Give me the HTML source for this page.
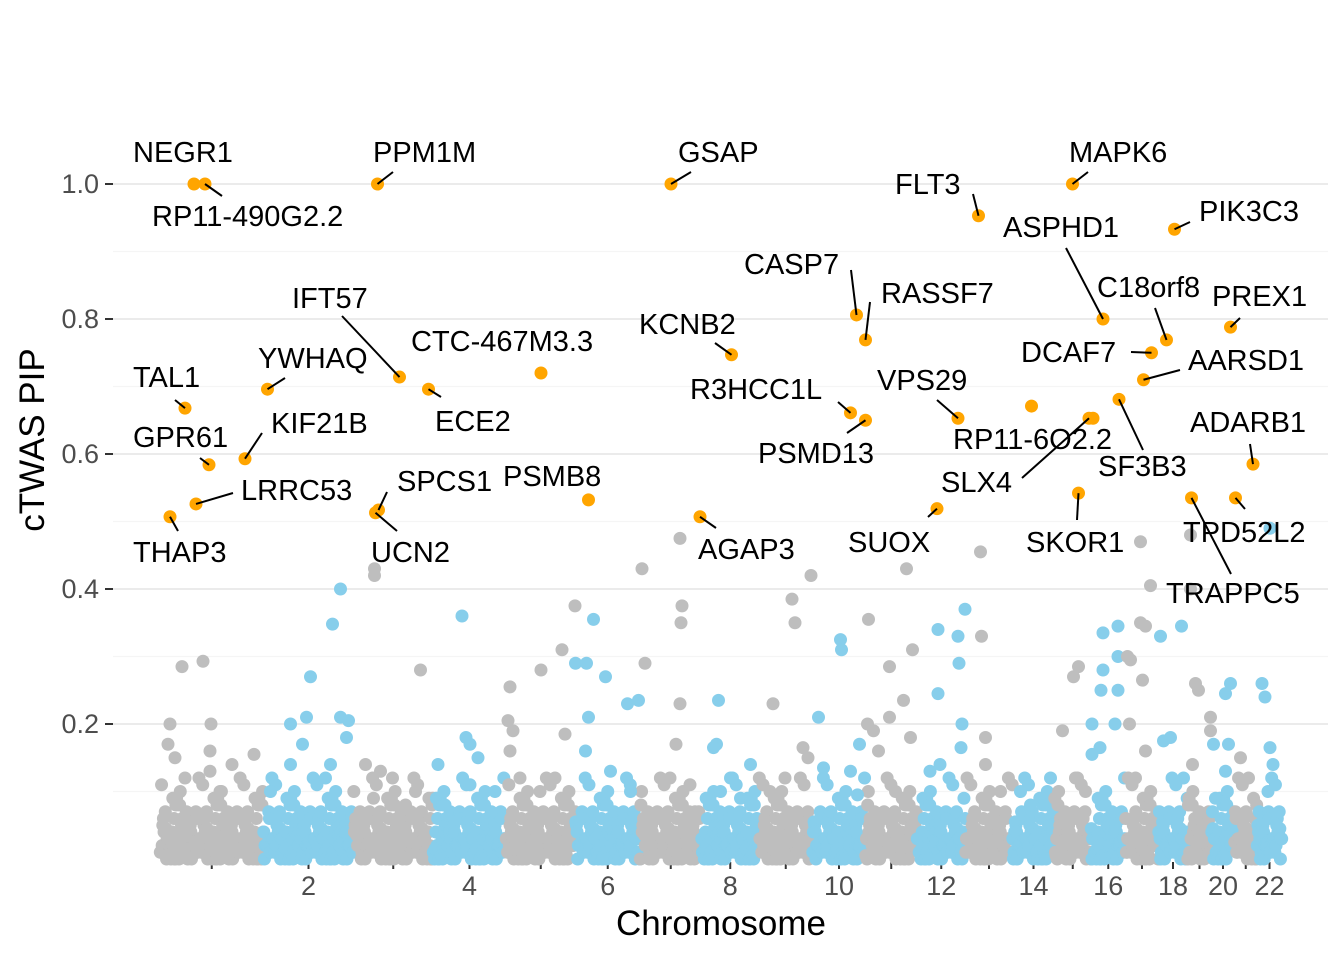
<!DOCTYPE html>
<html><head><meta charset="utf-8">
<style>
html,body{margin:0;padding:0;background:#fff;}
svg{display:block;font-family:"Liberation Sans",Arial,sans-serif;}
</style></head>
<body>
<svg id="chart" width="1344" height="960" viewBox="0 0 1344 960" xmlns="http://www.w3.org/2000/svg">
<g id="grid"></g>
<g id="axes"></g>
<g id="bg"></g>
<g id="hl"></g>
<g id="lab"></g>
<text x="0" y="0" transform="translate(44,440) rotate(-90)" text-anchor="middle" font-size="35" fill="#000">cTWAS PIP</text>
<text x="721" y="935" text-anchor="middle" font-size="35" fill="#000">Chromosome</text>
</svg>
<script>
// chromosome relative sizes (axis units)
const chromSizes = [103.5,90,79.5,73,69.5,64.5,61.5,57.5,53.5,53,51.5,48.5,47,42,36.5,34.5,33,29,24,23,22.5,25];
const xTickLabels = ["","2","","4","","6","","8","","10","","12","","14","","16","","18","","20","","22"];
const yTicks = [0.2,0.4,0.6,0.8,1.0];
const yTickLabels = ["0.2","0.4","0.6","0.8","1.0"];
const yMinor = [0.1,0.3,0.5,0.7,0.9];
// shared low-PIP background values
const lowPips = [0.01,0.04,0.02,0.07,0.00,0.03,0.05,0.01,0.09,0.02,0.06,0.03,0.00,0.04,0.11,0.02,0.05,0.01,0.03,0.08,0.00,0.02,0.06,0.04,0.01,0.03,0.10,0.02,0.05,0.00,0.07,0.03,0.01,0.04,0.02,0.06,0.00,0.03,0.12,0.01,0.05,0.02,0.04,0.08,0.00,0.03,0.01,0.06,0.02,0.04,0.09,0.01,0.03,0.00,0.05,0.02,0.07,0.01,0.04,0.03,0.015,0.035,0.025,0.045,0.005,0.055];
// elevated background genes: [chrom, position within chrom, pip]
const bgGenes = [
[1,22,0.285],[1,43,0.293],[1,10,0.2],[1,51,0.2],[1,50,0.16],[1,8,0.17],[1,72,0.14],[1,50,0.13],[1,94,0.155],[1,15,0.15],[1,25,0.12],[1,60,0.1],
[2,7,0.1],[2,27,0.14],[2,27,0.2],[2,39,0.17],[2,43,0.21],[2,47,0.27],[2,62,0.12],[2,67,0.14],[2,69,0.348],[2,77,0.4],[2,77,0.21],[2,83,0.18],[2,85,0.205],
[3,12,0.14],[3,20,0.09],[3,21,0.42],[3,21,0.43],[3,27,0.13],[3,39,0.12],[3,52,0.08],[3,67,0.28],[3,62,0.1],
[4,5,0.14],[4,29,0.36],[4,33,0.18],[4,37,0.17],[4,45,0.15],[4,62,0.1],[4,37,0.11],[4,12,0.08],
[5,4,0.255],[5,2,0.205],[5,4,0.16],[5,7,0.19],[5,14,0.12],[5,35,0.28],[5,34,0.1],[5,56,0.31],[5,59,0.185],[5,69,0.375],[5,49,0.12],
[6,0,0.29],[6,11,0.29],[6,18,0.355],[6,13,0.21],[6,10,0.16],[6,30,0.27],[6,35,0.13],[6,52,0.23],[6,63,0.235],[6,55,0.1],
[7,2,0.43],[7,5,0.29],[7,40,0.475],[7,42,0.375],[7,41,0.35],[7,40,0.23],[7,36,0.17],[7,30,0.12],[7,50,0.11],[7,55,0.07],
[8,17,0.235],[8,15,0.17],[8,12,0.165],[8,19,0.1],[8,29,0.12],[8,49,0.14],[8,39,0.09],
[9,14,0.23],[9,33,0.385],[9,36,0.35],[9,52,0.42],[9,44,0.165],[9,49,0.15],[9,11,0.1],[9,26,0.12],
[10,6,0.21],[10,11,0.135],[10,28,0.325],[10,29,0.31],[10,45,0.095],[10,47,0.17],[10,38,0.13],
[11,3,0.355],[11,2,0.2],[11,8,0.19],[11,13,0.16],[11,24,0.285],[11,24,0.21],[11,38,0.235],[11,41,0.43],[11,47,0.31],[11,45,0.18],[11,30,0.1],
[12,21,0.34],[12,21,0.245],[12,13,0.13],[12,41,0.33],[12,42,0.29],[12,45,0.2],[12,44,0.165],[12,48,0.37],[12,23,0.14],
[13,15,0.455],[13,16,0.33],[13,20,0.18],[13,20,0.14],[13,35,0.1],
[14,8,0.1],[14,38,0.12],[14,18,0.08],
[15,8,0.19],[15,19,0.27],[15,24,0.285],[15,21,0.12],[15,31,0.1],
[16,1,0.2],[16,1,0.155],[16,9,0.165],[16,12,0.335],[16,12,0.28],[16,10,0.25],[16,27,0.345],[16,27,0.3],[16,27,0.25],[16,24,0.2],
[17,2,0.3],[17,4,0.2],[17,5,0.295],[17,15,0.47],[17,15,0.35],[17,20,0.345],[17,25,0.405],[17,17,0.265],[17,20,0.16],[17,10,0.12],
[18,2,0.33],[18,5,0.175],[18,12,0.18],[18,23,0.345],[18,25,0.12],
[19,3,0.48],[19,3,0.4],[19,8,0.26],[19,11,0.25],[19,23,0.21],[19,23,0.19],[19,5,0.14],
[20,2,0.17],[20,14,0.245],[20,19,0.26],[20,17,0.17],[20,14,0.13],[20,4,0.09],
[21,14,0.12],[21,6,0.15],
[22,5,0.26],[22,8,0.24],[22,13,0.49],[22,13,0.165],[22,16,0.14],[22,11,0.1]
];
// highlighted genes: name, chrom, position within chrom, pip
const geneNames = ["NEGR1","RP11-490G2.2","PPM1M","GSAP","MAPK6","FLT3","PIK3C3","ASPHD1","C18orf8","PREX1","DCAF7","AARSD1","CASP7","RASSF7","KCNB2","CTC-467M3.3","IFT57","ECE2","YWHAQ","TAL1","R3HCC1L","PSMD13","VPS29","UNLAB14","RP11-6O2.2","SLX4","SF3B3","KIF21B","GPR61","ADARB1","SKOR1","SPCS1","UCN2","PSMB8","LRRC53","THAP3","AGAP3","SUOX","TRAPPC5","TPD52L2"];
const geneChrom = [1,1,3,7,15,13,18,16,18,20,17,17,10,11,8,5,3,3,2,1,10,11,12,14,16,16,16,1,1,21,15,3,3,6,1,1,7,12,19,20];
const genePos = [34,45,24,31,18,13,16,12,8,19,26,18,44,0,30,35,46,75,4,25,38,0,41,19,2,-2,28,85,49,18.5,24,25,22,13,36,10,60,20,4,24];
const genePip = [1.0,1.0,1.0,1.0,1.0,0.953,0.933,0.80,0.769,0.788,0.75,0.71,0.806,0.769,0.747,0.72,0.714,0.696,0.696,0.668,0.661,0.65,0.653,0.671,0.653,0.653,0.681,0.593,0.584,0.585,0.542,0.517,0.513,0.532,0.526,0.507,0.507,0.519,0.535,0.535];
// label layout: [textX, baselineY, lineX1, lineY1] (line goes to point)
const labelLayout = {
"NEGR1":[133,162,null,null],"RP11-490G2.2":[152,226,222,196],"PPM1M":[373,162,393,172],"GSAP":[678,162,691,172],
"MAPK6":[1069,162,1088,172],"FLT3":[895,194,973,194],"PIK3C3":[1199,221,1190,222],"ASPHD1":[1003,237,1066,248],
"C18orf8":[1097,297,1155,308],"PREX1":[1212,306,1240,318],"DCAF7":[1021,362,1131,352],"AARSD1":[1188,370,1180,370],
"CASP7":[744,274,851,270],"RASSF7":[881,303,870,302],"KCNB2":[639,334,715,343],"CTC-467M3.3":[411,351,null,null],
"IFT57":[292,308,342,316],"ECE2":[435,431,441,397],"YWHAQ":[258,368,285,378],"TAL1":[133,387,175,400],
"R3HCC1L":[690,399,838,402],"PSMD13":[758,463,847,433],"VPS29":[877,390,937,400],"RP11-6O2.2":[953,449,null,null],
"SLX4":[941,492,1022,478],"SF3B3":[1098,476,1143,450],"KIF21B":[271,433,262,433],"GPR61":[133,447,200,458],
"ADARB1":[1190,432,1250,444],"SKOR1":[1026,552,1077,520],"SPCS1":[397,491,387,492],"UCN2":[371,562,397,531],
"PSMB8":[503,486,null,null],"LRRC53":[241,500,233,493],"THAP3":[133,562,178,531],"AGAP3":[698,559,716,528],
"SUOX":[848,552,928,517],"TRAPPC5":[1166,603,1231,574],"TPD52L2":[1183,542,1245,509]
};

const NS="http://www.w3.org/2000/svg";
const X0=160, Y0=859, YSCALE=675, R=6.5;
const starts=[]; {let s=0; for(const w of chromSizes){starts.push(s); s+=w;}}
function xPos(c,p){return X0+starts[c-1]+p;}
function yPos(v){return Y0-YSCALE*v;}
function mk(tag,attrs,parent){const e=document.createElementNS(NS,tag);for(const k in attrs)e.setAttribute(k,attrs[k]);parent.appendChild(e);return e;}
const grid=document.getElementById('grid'),axes=document.getElementById('axes'),bg=document.getElementById('bg'),hl=document.getElementById('hl'),lab=document.getElementById('lab');

yMinor.forEach(v=>{const l=mk('line',{x1:113,x2:1328,y1:yPos(v),y2:yPos(v),stroke:'#F5F5F5','stroke-width':1.2},grid);

});
yTicks.forEach((v,i)=>{const l=mk('line',{x1:113,x2:1328,y1:yPos(v),y2:yPos(v),stroke:'#EBEBEB','stroke-width':2},grid);


const t=mk('line',{x1:105,x2:113,y1:yPos(v),y2:yPos(v),stroke:'#333','stroke-width':2},axes);


const tx=mk('text',{x:99,y:yPos(v)+9,'text-anchor':'end','font-size':27,fill:'#4D4D4D'},axes);tx.textContent=yTickLabels[i];

});
chromSizes.forEach((w,i)=>{const cx=X0+starts[i]+w/2;
const t=mk('line',{x1:cx,x2:cx,y1:862,y2:869,stroke:'#333','stroke-width':2},axes);


if(xTickLabels[i]){const tx=mk('text',{x:cx,y:895,'text-anchor':'middle','font-size':27,fill:'#4D4D4D'},axes);tx.textContent=xTickLabels[i];

}});

function col(c){return c%2===1?'#BEBEBE':'#87CEEB';}
// low band
chromSizes.forEach((w,i)=>{const n=Math.round(w*1.6);
for(let k=0;k<n;k++){const v=lowPips[(k*7+i*13)%lowPips.length];
const p=(k+0.5)/n*w;
const d=mk('circle',{cx:xPos(i+1,p),cy:yPos(v),r:R,fill:col(i+1)},bg);

}});
bgGenes.forEach(g=>{const d=mk('circle',{cx:xPos(g[0],g[1]),cy:yPos(g[2]),r:R,fill:col(g[0])},bg);

});

geneNames.forEach((n,i)=>{const cx=xPos(geneChrom[i],genePos[i]),cy=yPos(genePip[i]);
const L=labelLayout[n];
if(L&&L[2]!==null){const l=mk('line',{x1:L[2],y1:L[3],x2:cx,y2:cy,stroke:'#000','stroke-width':2},lab);

}
const d=mk('circle',{cx:cx,cy:cy,r:R,fill:'#FFA500'},hl);


if(L){const t=mk('text',{x:L[0],y:L[1],'font-size':29,fill:'#000'},lab);t.textContent=n;

}});
</script>
</body></html>
